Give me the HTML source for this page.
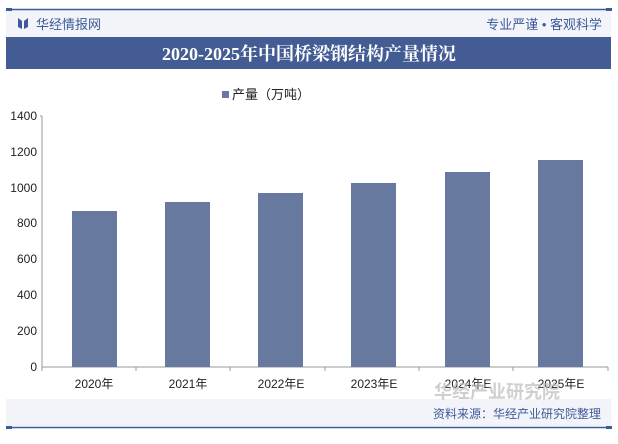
<!DOCTYPE html>
<html><head><meta charset="utf-8"><style>
body{margin:0;width:618px;height:439px;background:#fff;overflow:hidden;font-family:"Liberation Sans","Noto Sans CJK SC",sans-serif}
</style></head><body>
<svg width="618" height="439" xmlns="http://www.w3.org/2000/svg" font-family="Liberation Sans, Noto Sans CJK SC, sans-serif">
<rect x="6" y="10" width="605" height="27" fill="#f2f4f9"/>
<line x1="6" y1="9.5" x2="612" y2="9.5" stroke="#3d5a99" stroke-width="1.5"/>
<rect x="6" y="8" width="6" height="3" fill="#3d5a99"/><rect x="606" y="8" width="6" height="3" fill="#3d5a99"/>
<path d="M18 18 l4 3 v8 l-4 -2z M28 18 l-4 3 v8 l4 -2z" fill="#3d5a99"/>
<text x="36" y="29" font-size="13" fill="#3d5a99">华经情报网</text>
<text x="602" y="29" font-size="13" fill="#3d5a99" text-anchor="end">专业严谨 • 客观科学</text>
<rect x="6" y="37" width="605" height="32" fill="#435c94"/>
<text x="309" y="60" font-size="18" font-weight="bold" fill="#fff" text-anchor="middle" font-family="Liberation Serif, Noto Serif CJK SC, serif">2020-2025年中国桥梁钢结构产量情况</text>
<rect x="222" y="91" width="7" height="7" fill="#67799f"/>
<text x="232" y="99" font-size="13" fill="#222">产量（万吨）</text>
<g font-size="12" fill="#222" text-anchor="end">
<text x="37" y="371">0</text><text x="37" y="335">200</text><text x="37" y="299">400</text><text x="37" y="263">600</text><text x="37" y="227">800</text><text x="37" y="192">1000</text><text x="37" y="156">1200</text><text x="37" y="120">1400</text>
</g>
<line x1="42" y1="116" x2="42" y2="367" stroke="#999"/>
<line x1="42" y1="367" x2="608" y2="367" stroke="#999"/>
<g stroke="#999">
<line x1="40" y1="116" x2="42" y2="116"/>
<line x1="42" y1="367" x2="42" y2="371"/><line x1="136" y1="367" x2="136" y2="371"/><line x1="230" y1="367" x2="230" y2="371"/><line x1="325" y1="367" x2="325" y2="371"/><line x1="419" y1="367" x2="419" y2="371"/><line x1="513" y1="367" x2="513" y2="371"/><line x1="608" y1="367" x2="608" y2="371"/>
</g>
<g fill="#67799f">
<rect x="72" y="211" width="45" height="156"/>
<rect x="165" y="202" width="45" height="165"/>
<rect x="258" y="193" width="45" height="174"/>
<rect x="351" y="183" width="45" height="184"/>
<rect x="445" y="172" width="45" height="195"/>
<rect x="538" y="160" width="45" height="207"/>
</g>
<g font-size="12" fill="#222" text-anchor="middle">
<text x="94" y="388">2020年</text><text x="188" y="388">2021年</text><text x="281" y="388">2022年E</text><text x="374" y="388">2023年E</text><text x="468" y="388">2024年E</text><text x="561" y="388">2025年E</text>
</g>
<rect x="6" y="399" width="605" height="27" fill="#f2f4f9"/>
<text x="497" y="398" font-size="18" font-weight="bold" fill="#bbb" opacity="0.7" text-anchor="middle">华经产业研究院</text>
<text x="601" y="418" font-size="12" fill="#3d5a99" text-anchor="end">资料来源：华经产业研究院整理</text>
<line x1="6" y1="427.5" x2="612" y2="427.5" stroke="#3d5a99" stroke-width="1.5"/>
<rect x="6" y="426" width="6" height="3" fill="#3d5a99"/><rect x="606" y="426" width="6" height="3" fill="#3d5a99"/>
</svg>
</body></html>
